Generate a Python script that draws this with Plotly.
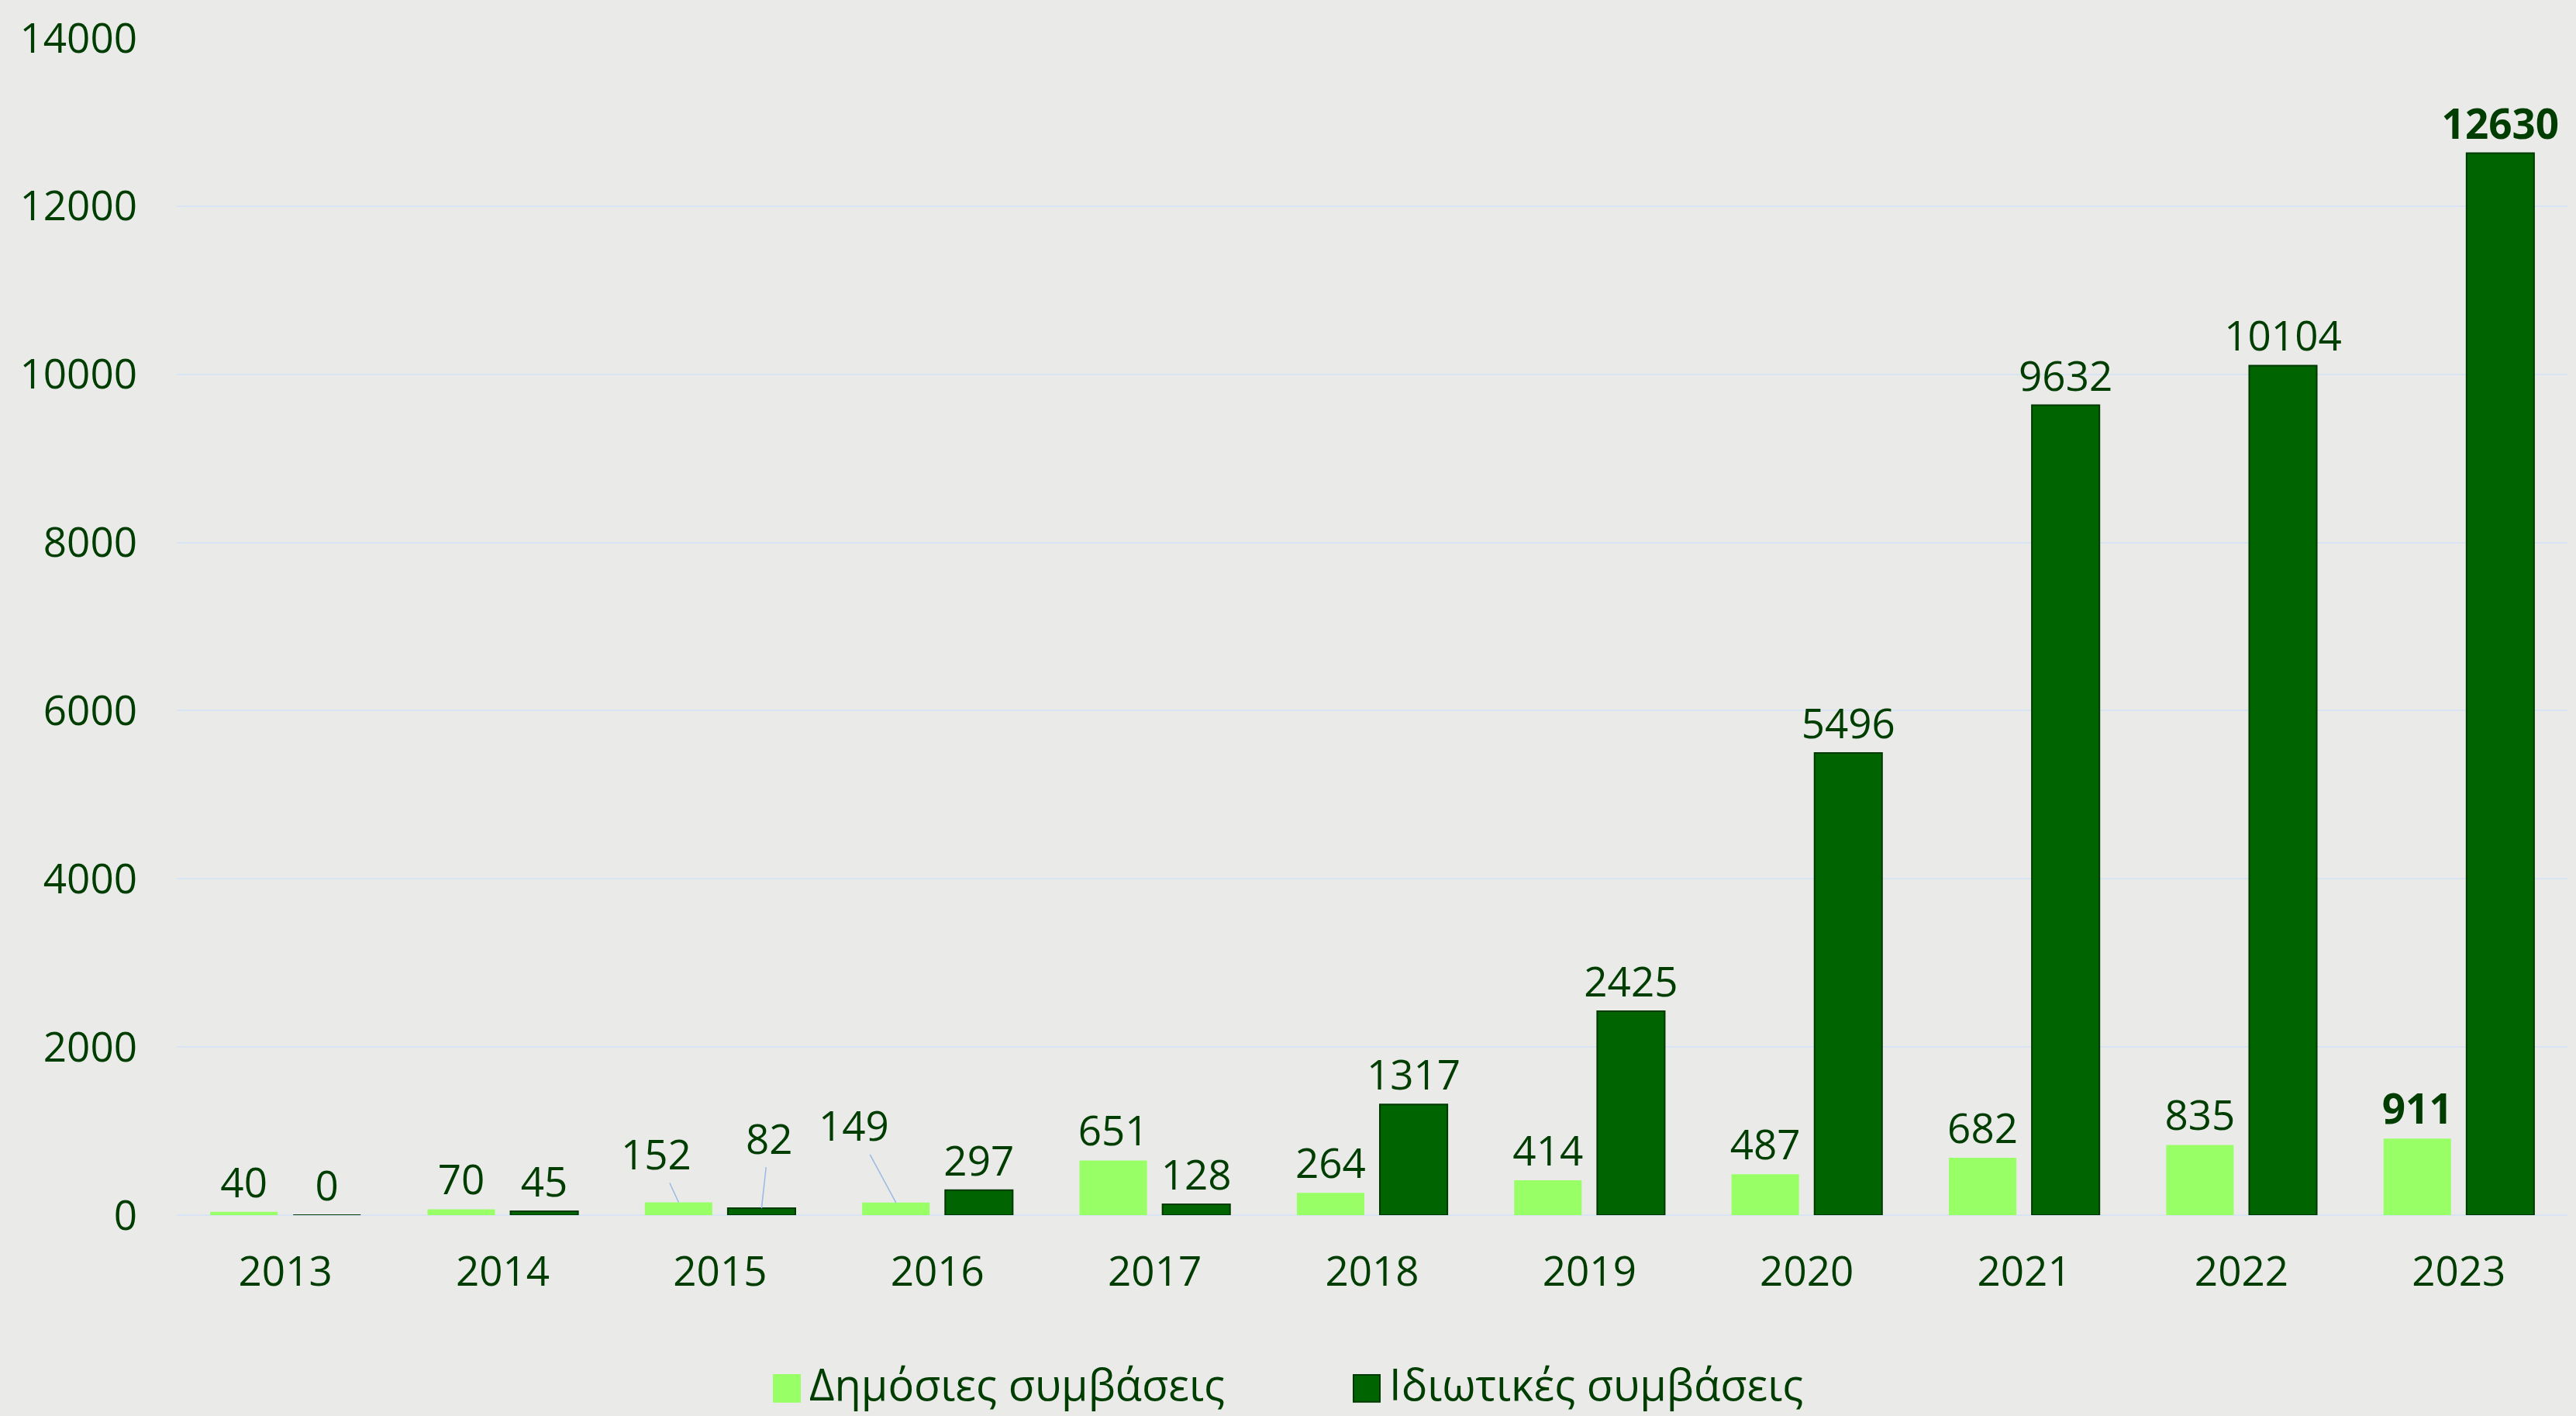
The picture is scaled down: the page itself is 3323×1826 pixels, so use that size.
import plotly.graph_objects as go

years = ["2013", "2014", "2015", "2016", "2017", "2018", "2019", "2020", "2021", "2022", "2023"]
public_vals = [40, 70, 152, 149, 651, 264, 414, 487, 682, 835, 911]
private_vals = [0, 45, 82, 297, 128, 1317, 2425, 5496, 9632, 10104, 12630]
series_names = ["Δημόσιες συμβάσεις", "Ιδιωτικές συμβάσεις"]
y_ticks = [0, 2000, 4000, 6000, 8000, 10000, 12000, 14000]

LIGHT = "#99FF66"
DARK = "#006400"
TXT = "#003d00"
FONT = "Open Sans"
FS = 53

# labels moved off the bar with leader lines (series index, year)
moved = {(0, "2015"): (-29, -63), (1, "2015"): (10, -91), (0, "2016"): (-54, -100)}
bold_years = {"2023"}


def make_text(si, vals):
    out = []
    for y, v in zip(years, vals):
        if (si, y) in moved:
            out.append("")
        elif y in bold_years:
            out.append(f"<b>{v}</b>")
        else:
            out.append(str(v))
    return out


fig = go.Figure()
for si, (vals, col, line_col) in enumerate([(public_vals, LIGHT, LIGHT), (private_vals, DARK, "#003a00")]):
    fig.add_trace(go.Bar(
        x=years, y=vals, name=series_names[si],
        marker=dict(color=col, line=dict(color=line_col, width=2 if si == 1 else 0)),
        text=make_text(si, vals), textposition="outside", cliponaxis=False,
        textfont=dict(family=FONT, size=FS, color=TXT), constraintext="none",
        showlegend=False,
    ))

# moved labels with leader lines
bar_offset = 53.5
for (si, yr), (ax, ay) in moved.items():
    vals = public_vals if si == 0 else private_vals
    idx = years.index(yr)
    v = vals[idx]
    fig.add_annotation(
        x=idx, y=v, xref="x", yref="y", xshift=(-bar_offset if si == 0 else bar_offset),
        text=str(v), showarrow=True, arrowhead=0, arrowwidth=1.5, arrowcolor="#9ab8e6",
        ax=ax, ay=ay, axref="pixel", ayref="pixel",
        font=dict(family=FONT, size=FS, color=TXT),
    )

# custom legend (large squares)
W, H = 3323, 1826
L, R, T, B = 228, 11, 41, 259
pw, ph = W - L - R, H - T - B


def px_x(p):
    return (p - L) / pw


def px_y(p):
    return (H - B - p) / ph


legend_items = [(998, LIGHT, LIGHT), (1746, DARK, "#003a00")]
for (x0, col, lc), name in zip(legend_items, series_names):
    fig.add_shape(type="rect", xref="paper", yref="paper",
                  x0=px_x(x0), x1=px_x(x0 + 34), y0=px_y(1809), y1=px_y(1774),
                  fillcolor=col, line=dict(color=lc, width=2))
    fig.add_annotation(xref="paper", yref="paper", x=px_x(x0 + 44), y=px_y(1785),
                       xanchor="left", yanchor="middle", showarrow=False, text=name,
                       font=dict(family=FONT, size=56, color=TXT))

fig.update_layout(
    width=W, height=H,
    margin=dict(l=L, r=R, t=T, b=B),
    paper_bgcolor="#eaeae9", plot_bgcolor="rgba(0,0,0,0)",
    barmode="group", bargap=0.236, bargroupgap=0.187,
    font=dict(family=FONT, size=FS, color=TXT),
    showlegend=False,
)
fig.update_xaxes(type="category", range=[-0.5, len(years) - 0.5], autorange=False,
                 showgrid=False, showline=False, zeroline=False,
                 ticks="outside", ticklen=0, ticklabelstandoff=26,
                 tickfont=dict(family=FONT, size=FS, color=TXT))
fig.update_yaxes(range=[0, 14000], autorange=False, tickvals=y_ticks, tickformat="d",
                 showgrid=True, gridcolor="#d8e3f3",
                 gridwidth=2, zeroline=True, zerolinecolor="#d8e3f3", zerolinewidth=2,
                 showline=False, ticks="", ticklabelstandoff=50,
                 tickfont=dict(family=FONT, size=FS, color=TXT))

fig.write_html("out.html", config={"displayModeBar": False},
               post_script="document.body.style.margin='0';document.body.style.background='#eaeae9';")
